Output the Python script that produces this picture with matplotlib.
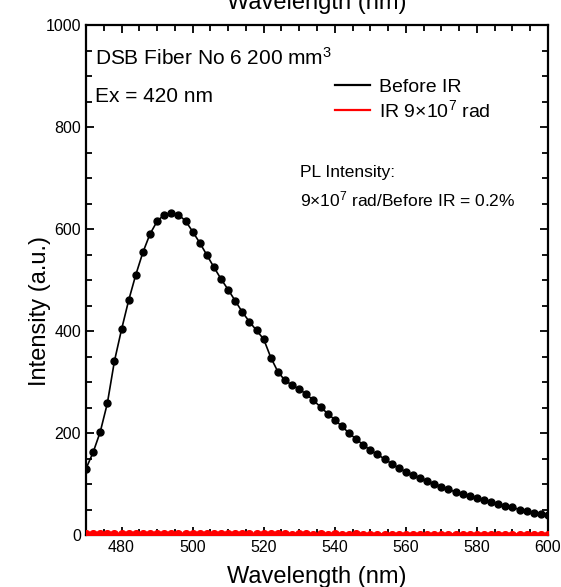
import matplotlib
matplotlib.use("Agg")
import matplotlib.pyplot as plt
from matplotlib.ticker import MultipleLocator

plt.rcParams['font.family'] = ['Liberation Sans', 'DejaVu Sans']
plt.rcParams['mathtext.fontset'] = 'custom'
plt.rcParams['mathtext.rm'] = 'Liberation Sans'
plt.rcParams['mathtext.it'] = 'Liberation Sans:italic'

# wavelength (nm), every 2 nm
wavelength = list(range(470, 602, 2))

# PL spectrum before irradiation (a.u.)
before_ir = [130, 162, 202, 258, 341, 403, 460, 510, 554, 590,
             615, 628, 631, 628, 616, 595, 573, 549, 525, 502,
             481, 459, 437, 418, 401, 384, 348, 320, 303, 294,
             286, 276, 264, 251, 238, 226, 213, 200, 188, 177,
             166, 158, 149, 140, 131, 124, 117, 112, 106, 100,
             95, 90, 84, 80, 76, 72, 68, 64, 60, 57,
             54, 50, 48, 44, 42, 40]

# after 9x10^7 rad, essentially flat at zero
after_ir = [1.2, 1.0, 1.3, 1.1, 1.4, 1.2, 1.5, 1.3, 1.4, 1.6,
            1.5, 1.4, 1.6, 1.5, 1.4, 1.3, 1.5, 1.2, 1.3, 1.4,
            1.2, 1.1, 1.3, 1.2, 1.0, 1.1, 1.2, 1.0, 1.1, 0.9,
            1.0, 1.1, 0.9, 1.0, 0.8, 1.0, 0.9, 0.8, 1.0, 0.9,
            0.8, 0.9, 0.7, 0.8, 0.9, 0.7, 0.8, 0.7, 0.8, 0.7,
            0.6, 0.8, 0.7, 0.6, 0.7, 0.6, 0.7, 0.6, 0.5, 0.6,
            0.7, 0.5, 0.6, 0.5, 0.6, 0.5]

fig = plt.figure(figsize=(5.61, 5.87), dpi=100)
ax = fig.add_axes([86/561, 52/587, 462/561, 510/587])

ax.plot(wavelength, before_ir, color='black', lw=1.2, marker='o', ms=5,
        label='Before IR')
# drawn over the bottom spine, lower half of the markers clipped
ax.plot(wavelength, after_ir, color='red', lw=2.2, marker='o', ms=5.5,
        label='IR 9×10$^{\\mathrm{7}}$ rad', zorder=3)

ax.set_xlim(470, 600)
ax.set_ylim(0, 1000)
ax.xaxis.set_major_locator(MultipleLocator(20))
ax.xaxis.set_minor_locator(MultipleLocator(5))
ax.yaxis.set_major_locator(MultipleLocator(200))
ax.yaxis.set_minor_locator(MultipleLocator(50))
ax.tick_params(which='both', direction='in', top=True, right=True,
               width=1.3, labelsize=11.5)
ax.tick_params(which='major', length=6)
ax.tick_params(which='minor', length=4)
for s in ax.spines.values():
    s.set_linewidth(1.6)

ax.set_xlabel('Wavelength (nm)', fontsize=17)
ax.set_ylabel('Intensity (a.u.)', fontsize=17)
ax.xaxis.set_label_coords(0.5, -0.06)
ax.yaxis.set_label_coords(-0.075, 0.44)

# cut-off top axis label
fig.text((86 + 231) / 561, 1 - 9/587, 'Wavelength (nm)', fontsize=17,
         ha='center', va='baseline')

ax.text(0.02, 0.935, 'DSB Fiber No 6 200 mm$^{\\mathrm{3}}$', fontsize=15,
        transform=ax.transAxes, va='center')
ax.text(0.02, 0.86, 'Ex = 420 nm', fontsize=15,
        transform=ax.transAxes, va='center')
ax.text(0.463, 0.71, 'PL Intensity:', fontsize=12.5,
        transform=ax.transAxes, va='center')
ax.text(0.463, 0.658, '9×10$^{\\mathrm{7}}$ rad/Before IR = 0.2%', fontsize=12.5,
        transform=ax.transAxes, va='center')

leg = ax.legend(loc='upper left', bbox_to_anchor=(0.5, 0.93), frameon=False,
                fontsize=14, handlelength=1.8, handletextpad=0.5,
                labelspacing=0.15)
for h in leg.get_lines():
    h.set_marker('')
    h.set_linewidth(1.6)

fig.savefig('out.png', dpi=100)
